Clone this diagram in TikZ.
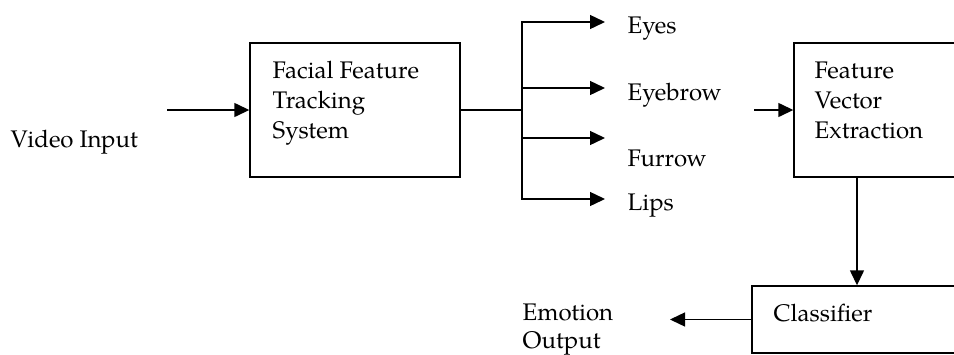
\documentclass[tikz,border=0pt]{standalone}
\usepackage{fontspec}
\setmainfont{TeX Gyre Pagella}
\usetikzlibrary{arrows.meta}
\begin{document}
\begin{tikzpicture}[x=1pt, y=-1pt, line width=1.4pt, line join=miter, >={Triangle[length=15pt,width=14pt]},
    font=\fontsize{24}{30}\selectfont,
    block/.style={draw, minimum width=#1, minimum height=134pt, inner sep=0pt},
    lbl/.style={anchor=base west, align=left, inner sep=0pt}]
    \useasboundingbox (0,0) rectangle (954,354);
    \clip (0,0) rectangle (954,354);
    % boxes
    \node[block=210pt] (track) at (355,110) {};
    \node[block=240pt] (fve) at (914,110) {};
    \node[block=240pt, minimum height=67pt] (cls) at (872,319.5) {};
    % texts (base = last line)
    \node[lbl] (trackt) at (272,138) {Facial Feature\\Tracking\\System};
    \node[lbl] (fvet) at (814,138) {Feature\\Vector\\Extraction};
    \node[lbl] (clst) at (773,321) {Classifier};
    \node[lbl] (vin) at (10,147) {Video Input};
    \node[lbl] (eyes) at (627,33) {Eyes};
    \node[lbl] (brow) at (627,100) {Eyebrow};
    \node[lbl] (furrow) at (627,166) {Furrow};
    \node[lbl] (lips) at (627,210) {Lips};
    \node[lbl, font=\fontsize{24}{27.5}\selectfont] (out) at (522,348) {Emotion\\Output};
    % free ends
    \coordinate (in) at (167,110);
    \coordinate (split) at (522,110);
    \coordinate (eyes-in) at (605,22);
    \coordinate (brow-in) at (605,88);
    \coordinate (furrow-in) at (605,138);
    \coordinate (lips-in) at (605,199);
    \coordinate (fve-in) at (754,110);
    \coordinate (down) at (857,0);
    \coordinate (out-in) at (670,319.5);
    % connectors
    \draw[->] (in) -- (track.west);
    \draw (track.east) -- (split);
    \draw[->] (split) |- (eyes-in);
    \draw[->] (split) |- (lips-in);
    \draw[->] (split |- brow-in) -- (brow-in);
    \draw[->] (split |- furrow-in) -- (furrow-in);
    \draw[->] (fve-in) -- (fve.west);
    \draw[->] (fve.south -| down) -- (cls.north -| down);
    \draw[->] (cls.west) -- (out-in);
\end{tikzpicture}
\end{document}
